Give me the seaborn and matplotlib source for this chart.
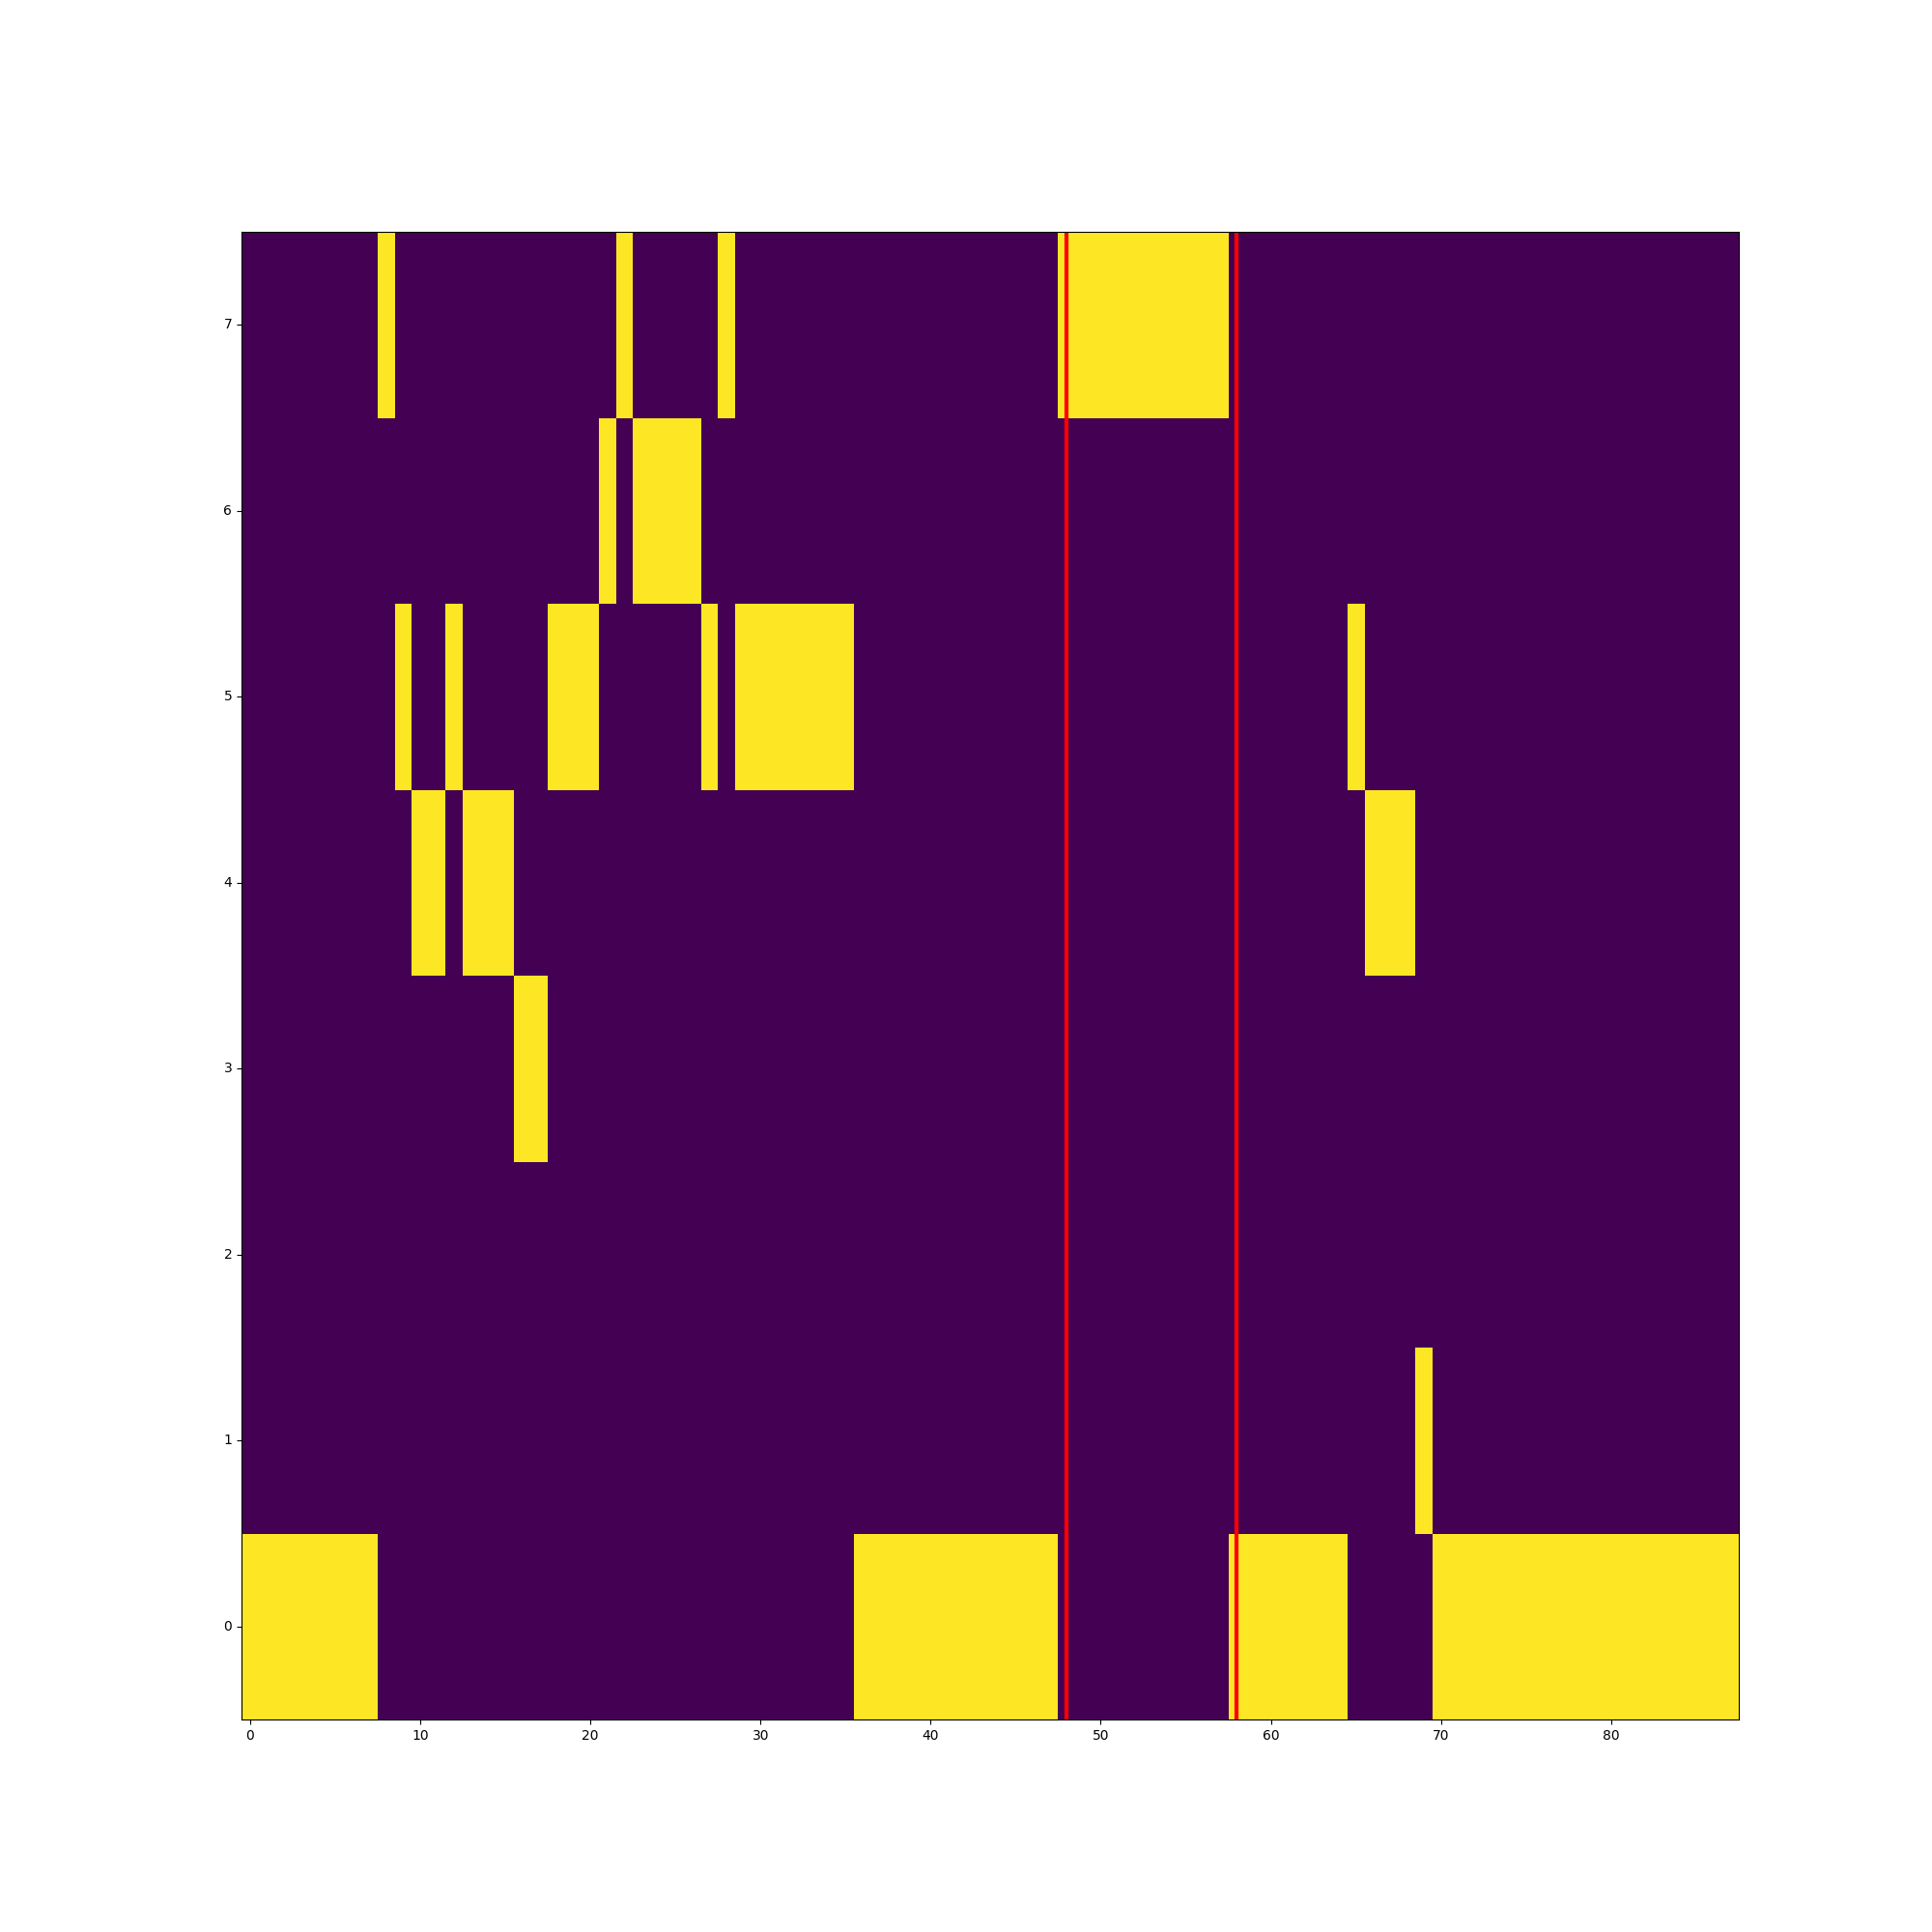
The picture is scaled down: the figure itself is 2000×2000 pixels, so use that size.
import numpy as np
import pandas as pd
import matplotlib
matplotlib.use("Agg")
import matplotlib.pyplot as plt
import seaborn as sns

# Active state (row index) for each of the 88 time steps (one-hot encoding)
active_row = (
    [0] * 8 +            # 0-7
    [7] +                # 8
    [5] +                # 9
    [4, 4] +             # 10-11
    [5] +                # 12
    [4, 4, 4] +          # 13-15
    [3, 3] +             # 16-17
    [5, 5, 5] +          # 18-20
    [6] +                # 21
    [7] +                # 22
    [6, 6, 6, 6] +       # 23-26
    [5] +                # 27
    [7] +                # 28
    [5] * 7 +            # 29-35
    [0] * 12 +           # 36-47
    [7] * 10 +           # 48-57
    [0] * 7 +            # 58-64
    [5] +                # 65
    [4, 4, 4] +          # 66-68
    [1] +                # 69
    [0] * 18             # 70-87
)
n_states = 8
marker_x = [48, 58]
x_tick_values = list(range(0, 81, 10))
y_tick_values = list(range(0, 8))

n_steps = len(active_row)
matrix = np.zeros((n_states, n_steps))
for t, r in enumerate(active_row):
    matrix[r, t] = 1
df = pd.DataFrame(matrix)

fig, ax = plt.subplots(figsize=(20, 20), dpi=100)
sns.heatmap(df, ax=ax, cmap="viridis", cbar=False, linewidths=0,
            xticklabels=False, yticklabels=False)
ax.set_ylim(0, n_states)
ax.set_xlim(0, n_steps)

ax.set_xticks([v + 0.5 for v in x_tick_values])
ax.set_xticklabels([str(v) for v in x_tick_values], rotation=0)
ax.set_yticks([v + 0.5 for v in y_tick_values])
ax.set_yticklabels([str(v) for v in y_tick_values], rotation=0, va="center")
ax.tick_params(axis="both", length=3.5, width=0.8, labelsize=10, color="black",
               labelcolor="black", bottom=True, left=True)
ax.set_xlabel("")
ax.set_ylabel("")

for x in marker_x:
    ax.axvline(x + 0.5, color="red", linewidth=3)

for s in ax.spines.values():
    s.set_visible(True)
    s.set_color("black")
    s.set_linewidth(0.8)

fig.subplots_adjust(left=0.125, right=0.9, bottom=0.11, top=0.88)
fig.savefig("out.png", dpi=100)
